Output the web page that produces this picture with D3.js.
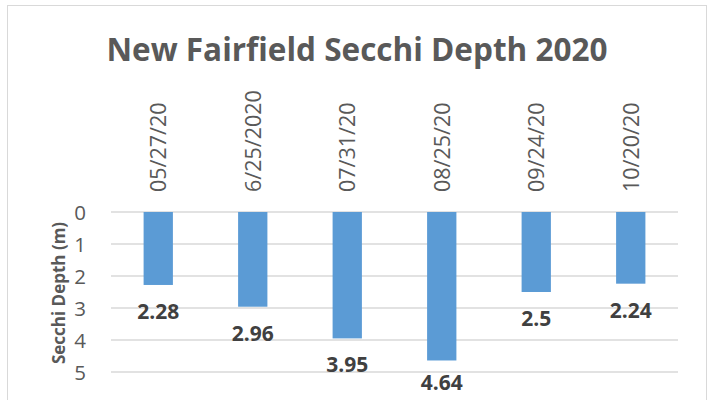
<!DOCTYPE html>
<html>
<head>
<meta charset="utf-8">
<script src="https://cdn.jsdelivr.net/npm/d3@7"></script>
<style>
  body { margin: 0; background: #fff; }
  svg text { font-family: "Open Sans", "Noto Sans", sans-serif; }
</style>
</head>
<body>
<div id="chart"></div>
<script>
// sample dates and secchi depth (m)
var dates = ["05/27/20", "6/25/2020", "07/31/20", "08/25/20", "09/24/20", "10/20/20"];
var depths = [2.28, 2.96, 3.95, 4.64, 2.5, 2.24];
var yTicks = [0, 1, 2, 3, 4, 5];

var width = 713, height = 400;
var plot = {left: 111, right: 678, top: 212, bottom: 372};

var svg = d3.select("#chart").append("svg")
  .attr("width", width)
  .attr("height", height);

// chart frame
svg.append("rect")
  .attr("x", 7.5).attr("y", 5.5)
  .attr("width", 699).attr("height", 400)
  .attr("fill", "#fff")
  .attr("stroke", "#d9d9d9");

var x = d3.scaleBand().domain(dates).range([plot.left, plot.right]).paddingInner(0.69).paddingOuter(0.345);
var y = d3.scaleLinear().domain([0, 5]).range([plot.top, plot.bottom]);

// gridlines
svg.append("g").selectAll("line")
  .data(yTicks)
  .enter().append("line")
  .attr("x1", plot.left).attr("x2", plot.right)
  .attr("y1", function(d) { return y(d); })
  .attr("y2", function(d) { return y(d); })
  .attr("stroke", "#d9d9d9")
  .attr("stroke-width", 1.3);

// y axis labels
var yAxis = svg.append("g")
  .attr("transform", "translate(" + (plot.left - 22) + ",0)")
  .call(d3.axisLeft(y).tickValues(yTicks).tickSize(0).tickFormat(d3.format("d")));
yAxis.select(".domain").remove();
yAxis.selectAll("text")
  .attr("font-size", 20.5)
  .attr("fill", "#595959")
  .attr("dy", "0.35em")
  .attr("font-family", "Open Sans");

// x labels at top, rotated
svg.append("g").selectAll("text")
  .data(dates)
  .enter().append("text")
  .attr("transform", function(d) {
    return "translate(" + (x(d) + x.bandwidth() / 2 + 8) + ",192) rotate(-90)";
  })
  .attr("text-anchor", "start")
  .attr("font-size", 21.5)
  .attr("fill", "#595959")
  .text(function(d) { return d; });

// bars
svg.append("g").selectAll("rect")
  .data(depths)
  .enter().append("rect")
  .attr("x", function(d, i) { return x(dates[i]); })
  .attr("y", y(0))
  .attr("width", x.bandwidth())
  .attr("height", function(d) { return y(d) - y(0); })
  .attr("fill", "#5b9bd5");

// data labels
svg.append("g").selectAll("text")
  .data(depths)
  .enter().append("text")
  .attr("x", function(d, i) { return x(dates[i]) + x.bandwidth() / 2; })
  .attr("y", function(d) { return Math.min(y(d) + 34, 390); })
  .attr("text-anchor", "middle")
  .attr("font-size", 21)
  .attr("font-weight", "bold")
  .attr("fill", "#404040")
  .text(function(d) { return d; });

// y axis title
svg.append("text")
  .attr("transform", "translate(65," + ((plot.top + plot.bottom) / 2 + 1) + ") rotate(-90)")
  .attr("text-anchor", "middle")
  .attr("font-size", 17)
  .attr("font-weight", "bold")
  .attr("fill", "#595959")
  .text("Secchi Depth (m)");

// title
svg.append("text")
  .attr("x", 357).attr("y", 61)
  .attr("text-anchor", "middle")
  .attr("font-size", 31.5)
  .attr("font-weight", "bold")
  .attr("fill", "#595959")
  .text("New Fairfield Secchi Depth 2020");
</script>
</body>
</html>
